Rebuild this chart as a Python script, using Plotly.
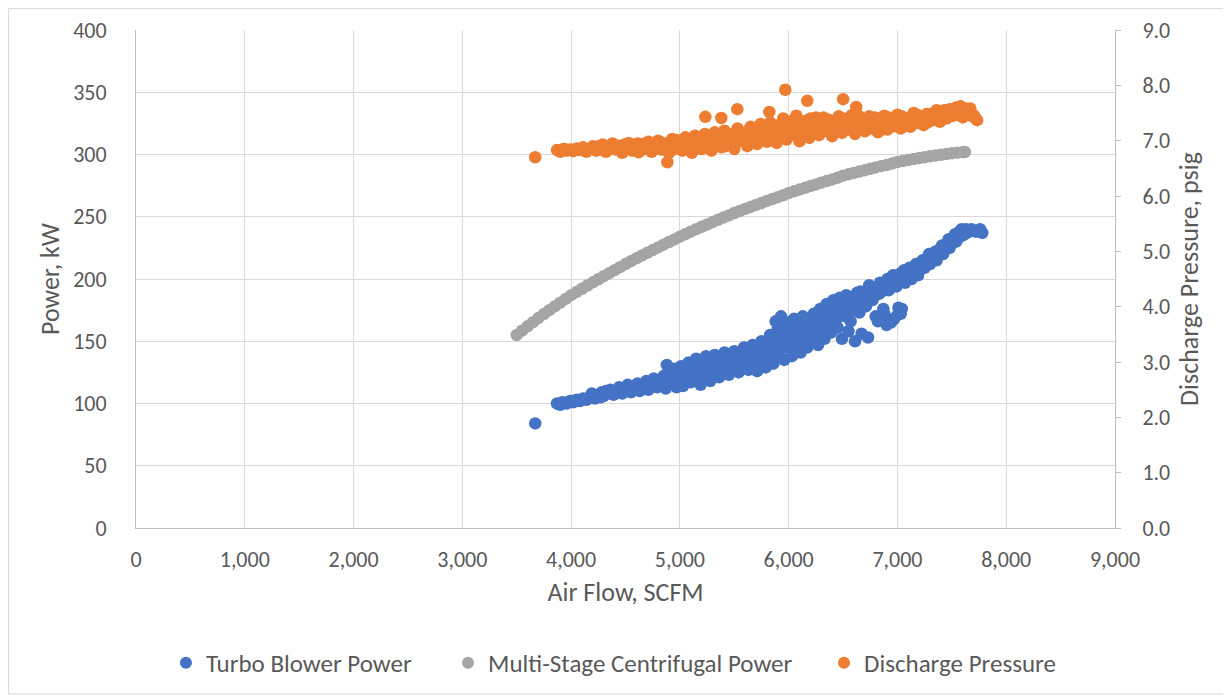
import plotly.graph_objects as go

# ---------------- data ----------------
turbo_x = [3670,
    3870, 3900, 3920, 3960, 3990, 4020, 4050, 4080, 4110, 4140,
    4170, 4190, 4220, 4250, 4280, 4300, 4330, 4360, 4390, 4420, 4440, 4470,
    4500, 4520, 4550, 4580, 4610, 4630, 4660, 4690, 4710, 4740, 4760, 4790, 4880,
    4820, 4850, 4870, 4900, 4920, 4950, 4970, 4990,
    5010, 5030, 5060, 5080, 5100, 5120, 5150, 5170,
    5190, 5210, 5240, 5260, 5280, 5300, 5320, 5340,
    5360, 5390, 5410, 5430, 5450, 5470, 5500, 5520,
    5540, 5560, 5590, 5610, 5630, 5650, 5670, 5690,
    5710, 5730, 5750, 5770, 5790, 5810, 5830, 5850,
    5860, 5880, 5900, 5910, 5930, 5950, 5960, 5980, 5990,
    6010, 6030, 6050, 6070, 6090, 6110, 6130, 6150,
    6170, 6190, 6210, 6230, 6250, 6270, 6290, 6310,
    6330, 6350, 6370, 6390, 6410, 6430, 6450, 6470,
    6490, 6510, 6530, 6550, 6570, 6590, 6610, 6630,
    6650, 6670, 6690, 6710, 6730, 6750, 6770, 6800,
    6830, 6850, 6870, 6900, 6920, 6950, 6970, 6990,
    6820, 6880, 6940, 7000, 7040,
    7010, 7030, 7050, 7070, 7100, 7130, 7160, 7190,
    7220, 7250, 7280, 7300, 7330, 7360, 7390, 7420,
    7450, 7480, 7510, 7540, 7570, 7600, 7630, 7660,
    7700, 7760, 7780,
    4000, 4100, 4200, 4270, 4320, 4400, 4480, 4540, 4600, 4680,
    4720, 4780, 4840, 4890, 4940, 4980, 5000, 5040, 5070, 5110,
    5140, 5180, 5220, 5250, 5290, 5310, 5350, 5380, 5420, 5440,
    5480, 5510, 5530, 5570, 5600, 5620, 5660, 5680, 5700, 5720,
    5760, 5780, 5800, 5820, 5840, 5870, 5890, 5920, 5940, 5970,
    6000, 6020, 6040, 6060, 6080, 6100, 6120, 6140, 6160, 6180,
    6200, 6220, 6240, 6260, 6280, 6300, 6320, 6340, 6360, 6380,
    6400, 6420, 6440, 6460, 6480, 6500, 6520, 6540, 6560, 6580,
    6600, 6620, 6640, 6660, 6680, 6700, 6720, 6740, 6760, 6780,
    6810, 6840, 6860, 6890, 6910, 6930, 6960, 6980, 7020, 7040,
    7060, 7080, 7110, 7140, 7170, 7200, 7230, 7260, 7290, 7320,
    7350, 7380, 7410, 7440, 7470, 7500, 7530, 7560, 7590, 7620,
    7680, 7720]
turbo_kw = [84,
    100, 99, 101, 100, 102, 101, 103, 102, 104, 103,
    105, 108, 104, 107, 109, 106, 108, 111, 107, 110, 113, 108,
    112, 115, 109, 113, 116, 110, 114, 118, 111, 116, 120, 113, 131,
    118, 122, 112, 125, 116, 128, 113, 120,
    130, 114, 124, 133, 117, 128, 136, 121,
    115, 131, 138, 124, 118, 134, 139, 127,
    121, 136, 141, 130, 123, 138, 142, 133,
    125, 140, 145, 135, 127, 143, 147, 131,
    126, 139, 150, 145, 129, 136, 155, 148,
    132, 166, 160, 140, 170, 152, 135, 145, 165,
    157, 138, 168, 149, 162, 141, 170, 155,
    145, 165, 150, 172, 158, 147, 176, 163,
    152, 180, 168, 157, 183, 171, 161, 185,
    152, 176, 187, 158, 166, 182, 150, 189,
    173, 156, 186, 178, 153, 192, 183, 170,
    188, 195, 176, 163, 191, 199, 168, 194,
    166, 172, 165, 171, 176,
    177, 172, 202, 197, 205, 200, 208, 203,
    213, 209, 216, 212, 219, 215, 224, 220,
    228, 225, 233, 230, 238, 235, 240, 238,
    239, 240, 237,
    102, 103, 106, 105, 110, 109, 111, 112, 111, 113,
    117, 116, 115, 119, 121, 126, 117, 120, 127, 123,
    130, 126, 122, 129, 126, 131, 123, 130, 134, 127,
    131, 137, 128, 133, 139, 131, 136, 139, 142, 133,
    136, 140, 146, 142, 138, 152, 145, 156, 162, 150,
    158, 147, 152, 160, 142, 156, 164, 148, 160, 152,
    168, 161, 154, 166, 160, 170, 157, 174, 162, 176,
    165, 177, 168, 179, 172, 182, 170, 179, 184, 175,
    186, 180, 184, 190, 182, 189, 186, 195, 189, 193,
    191, 197, 190, 196, 200, 195, 203, 199, 204, 200,
    207, 203, 209, 206, 212, 208, 215, 213, 220, 217,
    222, 219, 227, 224, 232, 229, 236, 233, 240, 236,
    240, 238]

multistage_x = [3500, 3550, 3600, 3650, 3700, 3750, 3800, 3850, 3900, 3950,
    4000, 4050, 4100, 4150, 4200, 4250, 4300, 4350, 4400, 4450,
    4500, 4550, 4600, 4650, 4700, 4750, 4800, 4850, 4900, 4950,
    5000, 5050, 5100, 5150, 5200, 5250, 5300, 5350, 5400, 5450,
    5500, 5550, 5600, 5650, 5700, 5750, 5800, 5850, 5900, 5950,
    6000, 6050, 6100, 6150, 6200, 6250, 6300, 6350, 6400, 6450,
    6500, 6550, 6600, 6650, 6700, 6750, 6800, 6850, 6900, 6950,
    7000, 7050, 7100, 7150, 7200, 7250, 7300, 7350, 7400, 7450,
    7500, 7550, 7600, 7620]
multistage_kw = [155, 158.5, 162, 165.3, 168.6, 171.8, 175, 178, 181, 184,
    187, 189.6, 192.2, 194.8, 197.3, 199.8, 202.3, 204.7, 207.1, 209.5,
    212, 214.3, 216.6, 218.8, 221, 223.2, 225.4, 227.6, 229.7, 231.8,
    234, 236, 238, 240, 241.9, 243.8, 245.7, 247.5, 249.3, 251.1,
    253, 254.7, 256.3, 257.9, 259.5, 261.1, 262.7, 264.2, 265.7, 267.3,
    269, 270.4, 271.8, 273.2, 274.6, 276, 277.4, 278.7, 280, 281.4,
    283, 284.1, 285.2, 286.3, 287.4, 288.5, 289.6, 290.6, 291.6, 292.8,
    294, 294.8, 295.6, 296.4, 297.1, 297.8, 298.5, 299.2, 299.8, 300.4,
    301, 301.5, 301.9, 302]

pressure_x = [3670,
    3870, 3900, 3930, 3960, 3990, 4020, 4050, 4080, 4110, 4140, 4170,
    4200, 4230, 4260, 4290, 4320, 4350, 4380,
    4410, 4440, 4470, 4500, 4530, 4560, 4590,
    4620, 4650, 4680, 4710, 4740, 4770, 4800,
    4830, 4860, 4885, 4900, 4930, 4960, 4990,
    5020, 5050, 5080, 5110, 5140, 5170, 5200,
    5234, 5230, 5260, 5290, 5320, 5350, 5381,
    5380, 5410, 5440, 5470, 5500, 5528, 5530,
    5560, 5590, 5620, 5650, 5680, 5710, 5740,
    5770, 5800, 5822, 5830, 5860, 5890, 5920,
    5950, 5969, 5980, 6010, 6040, 6070, 6100,
    6130, 6160, 6171, 6190, 6220, 6250, 6280,
    6310, 6340, 6370, 6400, 6430, 6460, 6501,
    6490, 6520, 6550, 6580, 6621, 6610, 6640,
    6670, 6700, 6730, 6760, 6790, 6820, 6850,
    6880, 6910, 6940, 6970, 7000, 7030, 7060,
    7090, 7120, 7150, 7180, 7210, 7240, 7270,
    7300, 7330, 7360, 7390, 7420, 7450, 7480,
    7510, 7540, 7570, 7600, 7630, 7660, 7690, 7732,
    3890, 3950, 4000, 4060, 4120, 4150, 4190, 4210, 4250, 4270,
    4310, 4340, 4370, 4400, 4430, 4460, 4490, 4520, 4550, 4580,
    4610, 4640, 4670, 4700, 4730, 4760, 4790, 4820, 4850, 4880,
    4910, 4940, 4970, 5000, 5030, 5060, 5090, 5120, 5150, 5180,
    5210, 5240, 5270, 5300, 5330, 5360, 5390, 5420, 5450, 5480,
    5510, 5540, 5570, 5600, 5630, 5660, 5690, 5720, 5750, 5780,
    5810, 5840, 5870, 5900, 5930, 5960, 5990, 6020, 6050, 6080,
    6110, 6140, 6170, 6200, 6230, 6260, 6290, 6320, 6350, 6380,
    6410, 6440, 6470, 6500, 6530, 6560, 6590, 6620, 6650, 6680,
    6710, 6740, 6770, 6800, 6830, 6860, 6890, 6920, 6950, 6980,
    7010, 7040, 7070, 7100, 7130, 7160, 7190, 7220, 7250, 7280,
    7310, 7340, 7370, 7400, 7430, 7460, 7490, 7520, 7550, 7580,
    7610, 7640, 7670, 7700, 7720]
pressure_psig = [6.70,
    6.83, 6.80, 6.85, 6.82, 6.84, 6.81, 6.86, 6.83, 6.88, 6.80, 6.85,
    6.90, 6.82, 6.87, 6.93, 6.80, 6.89, 6.95,
    6.84, 6.91, 6.78, 6.87, 6.96, 6.82, 6.90,
    6.79, 6.94, 6.85, 6.98, 6.80, 6.91, 7.00,
    6.84, 6.95, 6.61, 6.78, 7.03, 6.88, 6.98,
    6.82, 7.06, 6.92, 6.78, 7.09, 6.95, 6.85,
    7.43, 7.12, 6.99, 6.82, 7.15, 7.03, 7.41,
    6.88, 7.18, 6.96, 7.07, 6.85, 7.57, 7.22,
    7.00, 7.12, 6.90, 7.25, 7.04, 6.94, 7.30,
    7.14, 6.98, 7.52, 7.33, 7.08, 6.96, 7.22,
    7.40, 7.92, 7.02, 7.28, 7.12, 7.45, 6.99,
    7.20, 7.36, 7.72, 7.05, 7.26, 7.42, 7.10,
    7.31, 7.18, 7.38, 7.08, 7.25, 7.44, 7.75,
    7.14, 7.32, 7.20, 7.46, 7.61, 7.12, 7.29,
    7.38, 7.17, 7.34, 7.22, 7.42, 7.15, 7.30,
    7.45, 7.20, 7.36, 7.26, 7.47, 7.22, 7.34,
    7.40, 7.25, 7.50, 7.32, 7.42, 7.28, 7.48,
    7.36, 7.44, 7.55, 7.34, 7.50, 7.40, 7.57,
    7.45, 7.60, 7.52, 7.42, 7.58, 7.48, 7.44, 7.37,
    6.82, 6.84, 6.83, 6.84, 6.85, 6.83, 6.87, 6.84, 6.90, 6.84,
    6.87, 6.83, 6.88, 6.92, 6.86, 6.82, 6.93, 6.85, 6.91, 6.86,
    6.95, 6.83, 6.90, 6.88, 6.94, 6.84, 6.93, 6.97, 6.88, 6.82,
    6.92, 6.84, 7.01, 6.90, 6.95, 6.86, 7.02, 6.88, 6.97, 7.05,
    6.92, 7.02, 6.88, 7.08, 6.95, 7.10, 7.00, 6.90, 7.12, 7.02,
    6.95, 7.15, 7.08, 6.98, 7.18, 7.10, 7.00, 7.20, 7.08, 7.25,
    7.18, 7.02, 7.28, 7.15, 7.05, 7.32, 7.20, 7.10, 7.38, 7.22,
    7.30, 7.10, 7.28, 7.40, 7.16, 7.34, 7.22, 7.42, 7.28, 7.15,
    7.35, 7.20, 7.30, 7.40, 7.22, 7.36, 7.28, 7.20, 7.44, 7.30,
    7.25, 7.44, 7.32, 7.26, 7.40, 7.20, 7.34, 7.42, 7.28, 7.38,
    7.32, 7.44, 7.28, 7.36, 7.44, 7.34, 7.46, 7.36, 7.40, 7.33,
    7.48, 7.38, 7.46, 7.42, 7.55, 7.48, 7.44, 7.52, 7.47, 7.62,
    7.50, 7.54, 7.58, 7.46, 7.40]

x_ticks = [0, 1000, 2000, 3000, 4000, 5000, 6000, 7000, 8000, 9000]
kw_ticks = [0, 50, 100, 150, 200, 250, 300, 350, 400]
psig_ticks = [0, 1, 2, 3, 4, 5, 6, 7, 8, 9]

# ---------------- styling ----------------
FONT = "Carlito, Lato, sans-serif"
TXT = "#595959"
GRID = "#D9D9D9"
AXL = "#BFBFBF"
MS = 12.5
TICK = 22
TITLE = 26
LEG = 25

fig = go.Figure()
fig.add_trace(go.Scatter(x=turbo_x, y=turbo_kw, mode="markers", name="Turbo Blower Power",
                         marker=dict(color="#4472C4", size=MS), yaxis="y", legend="legend"))
fig.add_trace(go.Scatter(x=multistage_x, y=multistage_kw, mode="markers",
                         name="Multi-Stage Centrifugal Power",
                         marker=dict(color="#A5A5A5", size=MS), yaxis="y", legend="legend2"))
fig.add_trace(go.Scatter(x=pressure_x, y=pressure_psig, mode="markers", name="Discharge Pressure",
                         marker=dict(color="#ED7D31", size=MS), yaxis="y2", legend="legend3"))

def leg(xpos):
    return dict(orientation="h", x=xpos, xanchor="left", y=-0.271, yanchor="middle",
                font=dict(size=LEG, color=TXT), itemsizing="constant",
                bgcolor="rgba(0,0,0,0)")

fig.update_layout(
    width=1231, height=696,
    margin=dict(l=128, r=124, t=22, b=176, autoexpand=False),
    paper_bgcolor="white", plot_bgcolor="white",
    font=dict(family=FONT, color=TXT, size=TICK),
    showlegend=True,
    legend=leg(0.0306), legend2=leg(0.3187), legend3=leg(0.7028),
    xaxis=dict(range=[0, 9000], tickvals=x_ticks, tickformat=",d",
               showgrid=True, gridcolor=GRID, gridwidth=1,
               showline=True, linecolor=AXL, linewidth=1,
               ticks="outside", ticklen=12, tickcolor="rgba(0,0,0,0)",
               zeroline=False, automargin=False,
               tickfont=dict(size=TICK, color=TXT),
               title=dict(text="Air Flow, SCFM", font=dict(size=TITLE, color=TXT), standoff=10)),
    yaxis=dict(range=[0, 400], tickvals=kw_ticks,
               showgrid=True, gridcolor=GRID, gridwidth=1,
               showline=True, linecolor=AXL, linewidth=1,
               ticks="outside", ticklen=24, tickcolor="rgba(0,0,0,0)",
               zeroline=False, automargin=False,
               tickfont=dict(size=TICK, color=TXT),
               title=dict(text="Power, kW", font=dict(size=TITLE, color=TXT), standoff=6)),
    yaxis2=dict(range=[0, 9], tickvals=psig_ticks, tickformat=".1f",
                overlaying="y", side="right", showgrid=False,
                showline=True, linecolor=AXL, linewidth=1,
                ticks="outside", ticklen=5, tickcolor=AXL, ticklabelstandoff=17,
                zeroline=False, automargin=False,
                tickfont=dict(size=TICK, color=TXT),
                title=dict(text="Discharge Pressure, psig", font=dict(size=TITLE, color=TXT), standoff=10)),
    shapes=[dict(type="rect", xref="paper", yref="paper",
                 x0=-0.1302, x1=1.1154, y0=-0.3333, y1=1.0432,
                 line=dict(color="#D9D9D9", width=1), layer="below")],
)

fig.write_html("out.html")
